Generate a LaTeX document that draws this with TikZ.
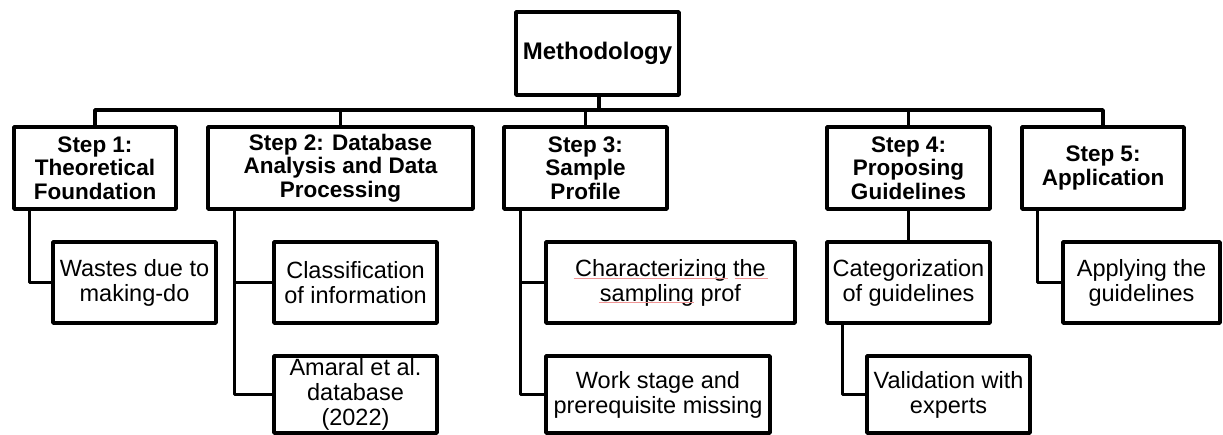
\documentclass[tikz,border=0pt]{standalone}
\usepackage{fontspec}
\setmainfont{Liberation Sans}
\definecolor{spellred}{RGB}{240,150,150}
\begin{document}
\begin{tikzpicture}[x=1pt,y=-1pt,
  every path/.style={line width=3.5pt,line join=round},
  box/.style={draw=black,line width=3.5pt,inner sep=0pt,align=center},
  topbox/.style={box,font=\bfseries\fontsize{24}{27}\selectfont},
  stepbox/.style={box,minimum height=82pt,font=\bfseries\fontsize{22.5}{23.5}\selectfont},
  subbox/.style={box,font=\fontsize{23.5}{25}\selectfont},
  link/.style={draw=black,line width=3.5pt},
  squiggle/.style={draw=spellred,line width=0.8pt}]
\useasboundingbox (0,0) rectangle (1223,435);
\node[topbox,minimum width=163pt,minimum height=83pt] (meth) at (597.5,53.5) {Methodology};
\coordinate (bus) at (0,110);

\node[stepbox,minimum width=162pt] (s1) at (95,168) {Step 1:\\Theoretical\\Foundation};
\node[stepbox,minimum width=265pt] (s2) at (340.5,168) {Step 2: Database\\Analysis and Data\\Processing};
\node[stepbox,minimum width=163pt] (s3) at (585.5,168) {Step 3:\\Sample\\Profile};
\node[stepbox,minimum width=163pt] (s4) at (908.5,168) {Step 4:\\Proposing\\Guidelines};
\node[stepbox,minimum width=162pt] (s5) at (1103,168) {Step 5:\\Application};

\node[subbox,minimum width=163pt,minimum height=81pt] (c1) at (134.5,282.5) {Wastes due to\\making-do};
\node[subbox,minimum width=163pt,minimum height=81pt] (c2a) at (355.5,282.5) {Classification\\of information};
\node[subbox,minimum width=163pt,minimum height=77pt] (c2b) at (355.5,394.5) {Amaral et al.\\database\\(2022)};
\node[subbox,minimum width=249pt,minimum height=81pt] (c3a) at (670.5,282.5) {Characterizing the\\sampling prof};
\node[subbox,minimum width=224pt,minimum height=77pt] (c3b) at (658,394.5) {Work stage and\\prerequisite missing};
\node[subbox,minimum width=163pt,minimum height=81pt] (c4a) at (908.5,282.5) {Categorization\\of guidelines};
\node[subbox,minimum width=163pt,minimum height=77pt] (c4b) at (948.5,394.5) {Validation with\\experts};
\node[subbox,minimum width=157pt,minimum height=81pt] (c5) at (1141.5,282.5) {Applying the\\guidelines};

% spell-check marks under the characterizing text
\draw[squiggle] ([shift={(-97pt,4.5pt)}]c3a.center) -- ([shift={(57pt,4.5pt)}]c3a.center);
\draw[squiggle] ([shift={(64pt,4.5pt)}]c3a.center) -- ([shift={(97pt,4.5pt)}]c3a.center);
\draw[squiggle] ([shift={(-72pt,-20pt)}]c3a.center) -- ([shift={(23pt,-20pt)}]c3a.center);

% top bus
\draw[link] ([xshift=1.5pt]meth.south) -- ([xshift=1.5pt]meth.south |- bus);
\draw[link] (s1.north) -- (s1.north |- bus) -- (s5.north |- bus) -- (s5.north);
\draw[link] (s2.north) -- (s2.north |- bus);
\draw[link] (s3.north) -- (s3.north |- bus);
\draw[link] (s4.north) -- (s4.north |- bus);

% step 1
\coordinate (t1) at ([xshift=17pt]s1.south west);
\draw[link] (t1) |- (c1.west);
% step 2
\coordinate (t2) at ([xshift=28pt]s2.south west);
\draw[link] (t2) |- (c2b.west);
\draw[link] (t2 |- c2a.west) -- (c2a.west);
% step 3
\coordinate (t3) at ([xshift=18pt]s3.south west);
\draw[link] (t3) |- (c3b.west);
\draw[link] (t3 |- c3a.west) -- (c3a.west);
% step 4
\draw[link] (s4.south) -- (c4a.north);
\coordinate (t4) at ([xshift=17pt]c4a.south west);
\draw[link] (t4) |- (c4b.west);
% step 5
\coordinate (t5) at ([xshift=17pt]s5.south west);
\draw[link] (t5) |- (c5.west);
\end{tikzpicture}
\end{document}
